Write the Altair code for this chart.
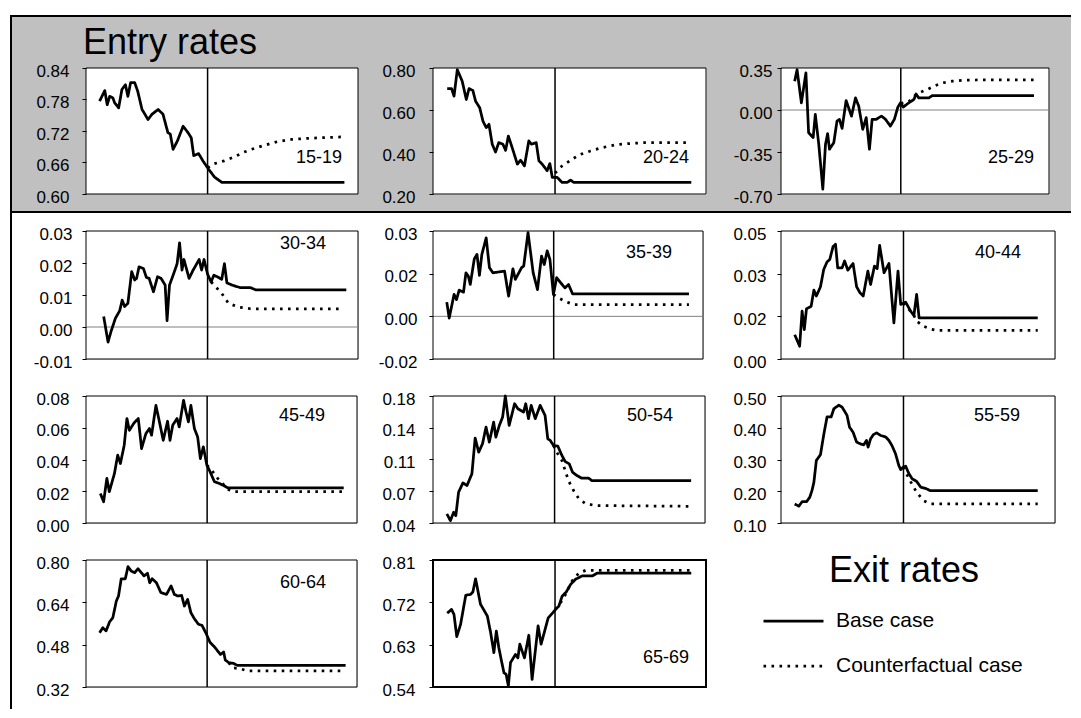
import altair as alt
import pandas as pd

FONT = "Liberation Sans"
SPLIT = 44.7
X_DOMAIN = [0, 100]
SERIES = ["Base case", "Counterfactual case"]
DASHES = [[1, 0], [2.6, 5.4]]

# ---------------- Entry rates ----------------
T_15_19 = [5, 6.9, 7.8, 8.7, 9.9, 10.5, 12, 13.2, 14.5, 15.4, 16.4, 17.9, 19, 20.6, 22.8, 24.3, 26.5, 28.3,
           30.1, 31, 32, 33.6, 35.7, 37.5, 38.7, 39.6, 41.4, 43, 45.1, 47.3, 50, 95]
B_15_19 = [0.777, 0.797, 0.770, 0.786, 0.783, 0.774, 0.764, 0.799, 0.808, 0.786, 0.812, 0.812, 0.796, 0.761,
           0.742, 0.752, 0.761, 0.752, 0.717, 0.714, 0.685, 0.701, 0.729, 0.717, 0.707, 0.673, 0.677, 0.663,
           0.647, 0.632, 0.622, 0.622]
CT_15_19 = [44.7, 46.7, 50.7, 54.7, 57.7, 60.8, 65.7, 70.6, 75.5, 81.6, 95]
C_15_19 = [0.650, 0.657, 0.663, 0.671, 0.679, 0.685, 0.693, 0.700, 0.704, 0.706, 0.709]
TICKS_15_19 = [0.60, 0.66, 0.72, 0.78, 0.84]
LABELS_15_19 = ["0.60", "0.66", "0.72", "0.78", "0.84"]

T_20_24 = [5.2, 6.8, 7.7, 8.9, 10.7, 12.2, 13.2, 14.6, 15.6, 17.1, 18.3, 19.5, 20.5, 21.7, 22.9, 24.1, 25.6,
           26.6, 27.6, 29, 30.9, 32.1, 33.5, 35.1, 36.1, 37.8, 38.8, 40, 41.8, 42.8, 43.7, 45.5, 47.3, 49.1,
           50.4, 51.6, 94.6]
B_20_24 = [0.702, 0.702, 0.666, 0.792, 0.737, 0.650, 0.702, 0.693, 0.642, 0.611, 0.547, 0.516, 0.532, 0.437,
           0.400, 0.445, 0.437, 0.408, 0.476, 0.421, 0.342, 0.361, 0.334, 0.453, 0.437, 0.445, 0.358, 0.342,
           0.311, 0.345, 0.279, 0.279, 0.255, 0.255, 0.266, 0.255, 0.255]
CT_20_24 = [44.7, 47.3, 49.8, 53.4, 57.7, 62, 66.8, 71.7, 77.8, 94.6]
C_20_24 = [0.300, 0.334, 0.355, 0.386, 0.405, 0.421, 0.434, 0.440, 0.445, 0.445]
TICKS_20_24 = [0.20, 0.40, 0.60, 0.80]
LABELS_20_24 = ["0.20", "0.40", "0.60", "0.80"]

T_25_29 = [5.1, 6.0, 7.6, 9.3, 10.3, 12.0, 12.8, 14.1, 15.6, 16.6, 17.4, 18.1, 19.7, 20.9, 21.8, 22.8, 24.3,
           26.3, 27.8, 29.0, 30.5, 31.8, 33.0, 34.0, 35.5, 37.5, 39.0, 40.8, 42.3, 43.6, 44.6, 45.6, 47.7,
           49.6, 50.4, 51.4, 55.2, 56.4, 94.4]
B_25_29 = [0.24, 0.336, 0.06, 0.309, -0.189, -0.23, -0.037, -0.286, -0.659, -0.286, -0.197, -0.327, -0.272,
           -0.092, -0.078, -0.153, 0.079, -0.051, 0.101, 0.032, -0.161, -0.064, -0.327, -0.078, -0.078,
           -0.051, -0.078, -0.134, -0.078, 0.024, 0.06, 0.024, 0.06, 0.088, 0.134, 0.101, 0.101, 0.12, 0.12]
CT_25_29 = [44.7, 47.7, 49.6, 51.4, 54.5, 57.0, 60.2, 63.9, 68.2, 72.6, 94.4]
C_25_29 = [0.055, 0.07, 0.115, 0.143, 0.17, 0.198, 0.226, 0.24, 0.248, 0.25, 0.251]
TICKS_25_29 = [-0.70, -0.35, 0.0, 0.35]
LABELS_25_29 = ["-0.70", "-0.35", "0.00", "0.35"]

# ---------------- Exit rates ----------------
T_30_34 = [6.5, 8.1, 9.2, 10.8, 12.4, 13.3, 14.2, 15.4, 16.8, 17.9, 18.6, 19.5, 21.1, 22.2, 23.2, 24.8, 26.3,
           27.6, 29.1, 29.8, 30.7, 32.5, 33.5, 34.4, 35.3, 36.0, 37.9, 39.4, 41.6, 42.5, 43.4, 44.7, 46.0,
           47.0, 48.7, 49.9, 50.9, 51.8, 53.7, 55.5, 56.8, 60.5, 62.4, 95.7]
B_30_34 = [0.0033, -0.0047, -0.0014, 0.0027, 0.0051, 0.0084, 0.0064, 0.0074, 0.0173, 0.0147, 0.0152, 0.0188,
           0.0183, 0.0155, 0.0152, 0.0110, 0.0157, 0.0152, 0.0131, 0.0020, 0.0131, 0.0173, 0.0198, 0.0263,
           0.0178, 0.0211, 0.0152, 0.0178, 0.0211, 0.0178, 0.0211, 0.0165, 0.0141, 0.0162, 0.0155, 0.0149,
           0.0198, 0.0138, 0.0131, 0.0126, 0.0123, 0.0123, 0.0116, 0.0116]
CT_30_34 = [46.0, 49.9, 52.4, 56.1, 60.5, 94.0]
C_30_34 = [0.0141, 0.0105, 0.0074, 0.0062, 0.0057, 0.0057]
TICKS_30_34 = [-0.01, 0.0, 0.01, 0.02, 0.03]
LABELS_30_34 = ["-0.01", "0.00", "0.01", "0.02", "0.03"]

T_35_39 = [5.1, 6.0, 7.8, 8.7, 9.7, 11.3, 12.2, 13.1, 13.8, 15.3, 16.3, 17.2, 18.1, 19.7, 20.9, 22.2, 26.5,
           28.0, 29.6, 30.5, 32.8, 33.6, 35.2, 37.1, 38.7, 40.2, 41.2, 42.3, 43.3, 44.6, 45.8, 47.1, 48.9,
           50.2, 51.7, 94.8]
B_35_39 = [0.0050, -0.0006, 0.0077, 0.0059, 0.0092, 0.0085, 0.0153, 0.0141, 0.0112, 0.0202, 0.0218, 0.0144,
           0.0218, 0.0276, 0.0171, 0.0153, 0.0159, 0.0071, 0.0167, 0.0130, 0.0171, 0.0177, 0.0294, 0.0153,
           0.0094, 0.0212, 0.0182, 0.0230, 0.0200, 0.0077, 0.0136, 0.0120, 0.0100, 0.0112, 0.0079, 0.0079]
CT_35_39 = [44.6, 46.5, 48.9, 52.1, 94.8]
C_35_39 = [0.0077, 0.0065, 0.0053, 0.0041, 0.0041]
TICKS_35_39 = [-0.015, 0.0, 0.015, 0.03]
LABELS_35_39 = ["-0.02", "0.00", "0.02", "0.03"]

T_40_44 = [5.0, 6.8, 7.7, 8.5, 9.3, 11.0, 12.0, 12.9, 14.4, 15.6, 16.8, 17.8, 19.0, 19.9, 20.7, 22.3, 23.2,
           24.4, 26.3, 27.6, 28.8, 30.0, 31.7, 32.7, 34.1, 35.1, 36.0, 37.6, 39.4, 41.2, 42.7, 43.7, 45.5,
           47.3, 48.5, 49.5, 50.4, 93.7]
B_40_44 = [0.0095, 0.0050, 0.0187, 0.0115, 0.0196, 0.0206, 0.0269, 0.0246, 0.0282, 0.0350, 0.0379, 0.0389,
           0.0439, 0.0448, 0.0356, 0.0356, 0.0383, 0.0347, 0.0373, 0.0282, 0.0259, 0.0246, 0.0343, 0.0291,
           0.0363, 0.0353, 0.0444, 0.0337, 0.0373, 0.0141, 0.0343, 0.0213, 0.0222, 0.0187, 0.0170, 0.0252,
           0.0161, 0.0161]
CT_40_44 = [44.6, 47.3, 48.5, 49.5, 52.0, 54.6, 57.0, 93.7]
C_40_44 = [0.0218, 0.0187, 0.0170, 0.0148, 0.0128, 0.0117, 0.0112, 0.0112]
TICKS_40_44 = [0.0, 1 / 60, 1 / 30, 0.05]
LABELS_40_44 = ["0.00", "0.02", "0.03", "0.05"]

T_45_49 = [5.3, 6.5, 7.7, 8.6, 10.5, 11.7, 12.7, 14.1, 15.1, 16.0, 17.8, 19.3, 20.5, 22.1, 23.4, 24.2, 25.8,
           27.1, 28.5, 30.1, 31.0, 32.0, 33.6, 34.4, 36.0, 36.9, 37.8, 38.7, 40.0, 41.2, 42.2, 43.3, 44.6,
           45.5, 47.4, 49.2, 50.4, 52.3, 95.1]
B_45_49 = [0.0186, 0.0134, 0.0281, 0.0197, 0.0312, 0.0427, 0.0375, 0.0490, 0.0658, 0.0584, 0.0632, 0.0658,
           0.0469, 0.0563, 0.0595, 0.0553, 0.0741, 0.0637, 0.0521, 0.0641, 0.0521, 0.0616, 0.0658, 0.0605,
           0.0773, 0.0700, 0.0637, 0.0741, 0.0595, 0.0542, 0.0406, 0.0480, 0.0364, 0.0333, 0.0260, 0.0249,
           0.0239, 0.0222, 0.0222]
CT_45_49 = [44.6, 45.9, 48.6, 50.4, 52.3, 54.7, 95.1]
C_45_49 = [0.0364, 0.0343, 0.0281, 0.0249, 0.0212, 0.0197, 0.0197]
TICKS_45_49 = [0.0, 0.02, 0.04, 0.06, 0.08]
LABELS_45_49 = ["0.00", "0.02", "0.04", "0.06", "0.08"]

T_50_54 = [5.1, 6.4, 7.6, 8.4, 9.4, 11.0, 12.5, 14.3, 15.5, 16.8, 18.2, 19.5, 20.7, 22.3, 23.1, 24.4, 25.6,
           26.6, 28.0, 30.0, 31.2, 33.3, 34.1, 35.1, 36.1, 37.6, 39.4, 41.2, 42.2, 43.1, 44.3, 45.9, 47.4,
           48.6, 50.1, 51.3, 52.9, 54.7, 57.2, 58.4, 94.9]
B_50_54 = [0.0500, 0.0426, 0.0518, 0.0481, 0.0739, 0.0842, 0.0813, 0.0942, 0.1336, 0.1181, 0.1273, 0.1457,
           0.1292, 0.1513, 0.1347, 0.1476, 0.1568, 0.1800, 0.1476, 0.1715, 0.1660, 0.1623, 0.1715, 0.1550,
           0.1697, 0.1550, 0.1697, 0.1586, 0.1328, 0.1310, 0.1255, 0.1247, 0.1144, 0.1078, 0.1052, 0.0960,
           0.0923, 0.0894, 0.0894, 0.0868, 0.0868]
CT_50_54 = [44.3, 45.5, 47.4, 48.6, 49.8, 51.7, 53.5, 55.9, 59.6, 94.9]
C_50_54 = [0.1255, 0.1181, 0.1089, 0.0978, 0.0868, 0.0757, 0.0673, 0.0617, 0.0592, 0.0584]
TICKS_50_54 = [0.04, 0.075, 0.11, 0.145, 0.18]
LABELS_50_54 = ["0.04", "0.07", "0.11", "0.14", "0.18"]

T_55_59 = [5.0, 6.5, 7.7, 9.3, 10.5, 11.3, 12.0, 12.9, 14.4, 15.6, 16.8, 18.3, 19.3, 21.1, 22.3, 24.1, 25.0,
           26.3, 27.6, 29.0, 30.2, 31.2, 31.8, 32.7, 33.7, 34.9, 36.3, 38.2, 39.4, 40.6, 41.8, 43.0, 43.7,
           44.6, 45.5, 46.7, 47.9, 49.5, 51.0, 52.8, 54.4, 93.7]
B_55_59 = [0.160, 0.153, 0.167, 0.167, 0.181, 0.202, 0.228, 0.297, 0.315, 0.378, 0.434, 0.434, 0.460, 0.471,
           0.465, 0.439, 0.402, 0.386, 0.355, 0.349, 0.346, 0.360, 0.339, 0.365, 0.378, 0.384, 0.376, 0.371,
           0.360, 0.342, 0.318, 0.281, 0.268, 0.276, 0.279, 0.255, 0.239, 0.231, 0.213, 0.209, 0.202, 0.202]
CT_55_59 = [44.6, 45.5, 47.3, 49.5, 52.0, 54.6, 93.7]
C_55_59 = [0.276, 0.260, 0.2305, 0.1968, 0.1705, 0.160, 0.160]
TICKS_55_59 = [0.10, 0.20, 0.30, 0.40, 0.50]
LABELS_55_59 = ["0.10", "0.20", "0.30", "0.40", "0.50"]

T_60_64 = [5.0, 6.2, 7.4, 8.7, 9.9, 11.2, 12.0, 13.0, 14.5, 15.5, 16.7, 18.0, 19.2, 20.4, 21.4, 22.7, 23.5,
           24.4, 26.0, 27.6, 29.7, 31.4, 32.6, 33.8, 35.3, 36.3, 37.5, 38.7, 40.0, 41.5, 42.8, 44.2, 45.8,
           47.1, 48.3, 49.6, 50.8, 51.4, 52.7, 54.5, 55.8, 95.8]
B_60_64 = [0.525, 0.544, 0.532, 0.566, 0.582, 0.645, 0.664, 0.729, 0.729, 0.775, 0.758, 0.752, 0.767, 0.752,
           0.740, 0.750, 0.714, 0.729, 0.714, 0.677, 0.670, 0.702, 0.670, 0.664, 0.666, 0.626, 0.651, 0.601,
           0.578, 0.557, 0.553, 0.525, 0.488, 0.475, 0.460, 0.443, 0.452, 0.422, 0.412, 0.409, 0.402, 0.402]
CT_60_64 = [52.7, 53.9, 57.0, 59.5, 95.8]
C_60_64 = [0.412, 0.393, 0.389, 0.381, 0.381]
TICKS_60_64 = [0.32, 0.48, 0.64, 0.80]
LABELS_60_64 = ["0.32", "0.48", "0.64", "0.80"]

T_65_69 = [5.2, 6.8, 7.7, 8.7, 10.1, 12.0, 13.8, 14.6, 15.6, 17.4, 19.9, 21.1, 22.3, 23.2, 24.1, 25.1, 26.0,
           26.8, 27.6, 28.4, 30.2, 31.1, 31.8, 33.5, 35.1, 36.3, 38.5, 39.6, 42.2, 43.9, 44.9, 46.1, 47.3,
           48.8, 50.4, 52.2, 54.6, 58.3, 60.1, 94.6]
B_65_69 = [0.697, 0.705, 0.694, 0.647, 0.673, 0.735, 0.737, 0.742, 0.770, 0.716, 0.691, 0.656, 0.613, 0.659,
           0.624, 0.595, 0.570, 0.567, 0.542, 0.592, 0.609, 0.602, 0.631, 0.602, 0.650, 0.556, 0.670, 0.631,
           0.687, 0.698, 0.705, 0.712, 0.733, 0.742, 0.758, 0.769, 0.776, 0.776, 0.782, 0.782]
CT_65_69 = [44.9, 47.8, 50.9, 53.4, 55.9, 94.6]
C_65_69 = [0.705, 0.728, 0.765, 0.782, 0.788, 0.788]
TICKS_65_69 = [0.54, 0.63, 0.72, 0.81]
LABELS_65_69 = ["0.54", "0.63", "0.72", "0.81"]

# panel layout: name, data, ticks, size, label position, label padding, zero line, border width
PANELS = [
    ("15-19", T_15_19, B_15_19, CT_15_19, C_15_19, TICKS_15_19, LABELS_15_19, 272, 126, 233, 90, 13, False, 1),
    ("20-24", T_20_24, B_20_24, CT_20_24, C_20_24, TICKS_20_24, LABELS_20_24, 273, 126, 233, 90, 14, False, 1),
    ("25-29", T_25_29, B_25_29, CT_25_29, C_25_29, TICKS_25_29, LABELS_25_29, 268, 126, 230, 90, 5, True, 1),
    ("30-34", T_30_34, B_30_34, CT_30_34, C_30_34, TICKS_30_34, LABELS_30_34, 272, 128, 217, 13, 10, True, 1),
    ("35-39", T_35_39, B_35_39, CT_35_39, C_35_39, TICKS_35_39, LABELS_35_39, 270, 128, 216, 22, 12, True, 1),
    ("40-44", T_40_44, B_40_44, CT_40_44, C_40_44, TICKS_40_44, LABELS_40_44, 274, 128, 217, 22, 11, False, 1),
    ("45-49", T_45_49, B_45_49, CT_45_49, C_45_49, TICKS_45_49, LABELS_45_49, 271, 127, 216, 20, 13, False, 1),
    ("50-54", T_50_54, B_50_54, CT_50_54, C_50_54, TICKS_50_54, LABELS_50_54, 272, 127, 217, 20, 14, False, 1),
    ("55-59", T_55_59, B_55_59, CT_55_59, C_55_59, TICKS_55_59, LABELS_55_59, 274, 127, 216, 20, 11, False, 1),
    ("60-64", T_60_64, B_60_64, CT_60_64, C_60_64, TICKS_60_64, LABELS_60_64, 271, 127, 217, 23, 13, False, 1),
    ("65-69", T_65_69, B_65_69, CT_65_69, C_65_69, TICKS_65_69, LABELS_65_69, 273, 127, 233, 98, 14, False, 2),
]

ONE = pd.DataFrame({"k": [0]})


def make_panel(idx, spec):
    (name, t, b, ct, c, ticks, labels, w, h, lx, ly, pad, zero, border) = spec
    df = pd.DataFrame({
        "t": list(t) + list(ct),
        "v": list(b) + list(c),
        "series": [SERIES[0]] * len(t) + [SERIES[1]] * len(ct),
    })
    vals = ",".join(repr(float(v)) for v in ticks)
    labs = ",".join("'" + s + "'" for s in labels)
    label_expr = f"[{labs}][indexof([{vals}], datum.value)]"

    x_enc = alt.X("t:Q", scale=alt.Scale(domain=X_DOMAIN, nice=False, zero=False), axis=None)
    y_enc = alt.Y(
        "v:Q",
        scale=alt.Scale(domain=[ticks[0], ticks[-1]], nice=False, zero=False),
        axis=alt.Axis(
            values=list(ticks), labelExpr=label_expr, title=None, grid=False, domain=False,
            ticks=True, tickSize=4, tickColor="black", tickWidth=1,
            labelFont=FONT, labelFontSize=17, labelColor="black", labelPadding=pad,
            labelOffset=3, labelFlush=False, labelOverlap=False, labelBound=False, zindex=1,
        ),
    )

    layers = []
    if idx == 0:
        layers.append(
            alt.Chart(ONE).mark_rect(fill="#c0c0c0").encode(
                x=alt.value(-75), x2=alt.value(985), y=alt.value(-52), y2=alt.value(144))
        )
        for enc in (
            dict(x=alt.value(-76), x2=alt.value(985), y=alt.value(-52)),
            dict(x=alt.value(-76), x2=alt.value(985), y=alt.value(144)),
            dict(x=alt.value(-75), y=alt.value(-53), y2=alt.value(641)),
        ):
            layers.append(alt.Chart(ONE).mark_rule(color="black", strokeWidth=2).encode(**enc))
        layers.append(
            alt.Chart(ONE).mark_text(font=FONT, fontSize=36, align="left", baseline="alphabetic",
                                     color="black").encode(
                x=alt.value(-3), y=alt.value(-14), text=alt.value("Entry rates"))
        )

    layers.append(
        alt.Chart(ONE).mark_rect(fill="white", stroke="black", strokeWidth=border).encode(
            x=alt.value(0), x2=alt.value("width"), y=alt.value(0), y2=alt.value("height"))
    )
    if zero:
        layers.append(
            alt.Chart(pd.DataFrame({"v": [0.0]})).mark_rule(color="#808080", strokeWidth=1).encode(y=y_enc)
        )
    layers.append(
        alt.Chart(pd.DataFrame({"t": [SPLIT]})).mark_rule(color="black", strokeWidth=1.5).encode(x=x_enc)
    )

    if idx == 10:
        legend = alt.Legend(
            orient="none", legendX=329, legendY=29.5, title=None, direction="vertical",
            symbolType="stroke", symbolSize=3600, symbolStrokeWidth=2.75, symbolStrokeColor="black",
            labelFont=FONT, labelFontSize=21, labelColor="black", labelOffset=11, rowPadding=3,
            padding=0, offset=0, labelLimit=400,
        )
    else:
        legend = None

    layers.append(
        alt.Chart(df).mark_line(color="black", strokeWidth=2.75, strokeJoin="round", strokeCap="butt").encode(
            x=x_enc, y=y_enc,
            strokeDash=alt.StrokeDash("series:N", scale=alt.Scale(domain=SERIES, range=DASHES), legend=legend),
        )
    )
    layers.append(
        alt.Chart(ONE).mark_text(font=FONT, fontSize=18, align="center", baseline="middle", color="black").encode(
            x=alt.value(lx), y=alt.value(ly), text=alt.value(name))
    )
    if idx == 10:
        layers.append(
            alt.Chart(ONE).mark_text(font=FONT, fontSize=36, align="center", baseline="alphabetic",
                                     color="black").encode(
                x=alt.value(471), y=alt.value(22), text=alt.value("Exit rates"))
        )
    return alt.layer(*layers).properties(width=w, height=h)


panels = [make_panel(i, p) for i, p in enumerate(PANELS)]

chart = alt.ConcatChart(
    concat=panels,
    columns=3,
    spacing={"row": 37, "column": 75},
    align={"row": "each", "column": "none"},
    bounds="flush",
    padding={"left": 0, "top": 5, "right": 0, "bottom": 0},
).resolve_scale(strokeDash="independent").resolve_legend(strokeDash="independent").configure_view(
    strokeWidth=0
).configure(background="white", font=FONT)

chart.save("out.html", embed_options={"renderer": "svg", "actions": False})
